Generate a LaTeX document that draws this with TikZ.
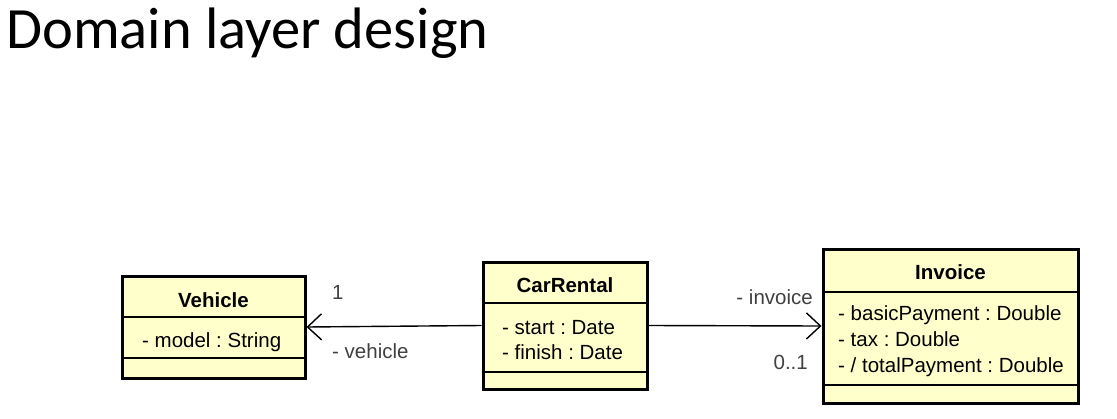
\documentclass[tikz,border=0pt]{standalone}
\usepackage{fontspec}
\setmainfont{Liberation Sans}
\newfontfamily\titlefont{Carlito}
\usetikzlibrary{arrows.meta}
\definecolor{myyellow}{RGB}{255, 255, 204}
\definecolor{mygray}{RGB}{64, 64, 64}
\frenchspacing

\begin{document}
\begin{tikzpicture}[x = 1pt, y = -1pt,
  classbox/.style = {draw, line width = 3pt, fill = myyellow, inner sep = 0pt},
  sepline/.style = {line width = 1.4pt},
  txt/.style = {inner sep = 0pt, font = \fontsize{20.5}{22}\selectfont},
  assoc/.style = {line width = 1.4pt, -{Straight Barb[length = 14pt, width = 26pt, line width = 1.4pt]}}]
\useasboundingbox (0,0) rectangle (1117,418);
\node[inner sep = 0pt, anchor = base west, font = \titlefont\fontsize{58.5}{64}\selectfont] (title) at (6, 48) {Domain layer design};
% classes
\node[classbox, minimum width = 183pt, minimum height = 102pt] (vehicle) at (213.5, 327) {};
\draw[sepline] (vehicle.west |- 0, 317) -- (vehicle.east |- 0, 317);
\draw[sepline] (vehicle.west |- 0, 358) -- (vehicle.east |- 0, 358);
\node[txt, anchor = base, font = \fontsize{20.5}{22}\selectfont\bfseries] (vehiclename) at (213.5, 307) {Vehicle};
\node[txt, anchor = base west] (model) at (142, 347) {- model : String};

\node[classbox, minimum width = 164pt, minimum height = 127pt] (carrental) at (565, 325.5) {};
\draw[sepline] (carrental.west |- 0, 303) -- (carrental.east |- 0, 303);
\draw[sepline] (carrental.west |- 0, 372) -- (carrental.east |- 0, 372);
\node[txt, anchor = base, font = \fontsize{20.5}{22}\selectfont\bfseries] (carrentalname) at (565, 292) {CarRental};
\node[txt, anchor = base west] (start) at (502, 334) {- start : Date};
\node[txt, anchor = base west] (finish) at (502, 359) {- finish : Date};

\node[classbox, minimum width = 255pt, minimum height = 154pt] (invoice) at (950.5, 326) {};
\draw[sepline] (invoice.west |- 0, 292) -- (invoice.east |- 0, 292);
\draw[sepline] (invoice.west |- 0, 385) -- (invoice.east |- 0, 385);
\node[txt, anchor = base, font = \fontsize{20.5}{22}\selectfont\bfseries] (invoicename) at (950.5, 279) {Invoice};
\node[txt, anchor = base west] (basic) at (838, 320) {- basicPayment : Double};
\node[txt, anchor = base west] (tax) at (838, 346) {- tax : Double};
\node[txt, anchor = base west] (total) at (838, 372) {- / totalPayment : Double};
% associations
\draw[assoc] (carrental.west) -- (vehicle.east);
\draw[assoc] (carrental.east) -- (invoice.west);
\node[txt, anchor = base west, text = mygray] (onevehicle) at (332, 299) {1};
\node[txt, anchor = base west, text = mygray] (rolevehicle) at (332, 358) {- vehicle};
\node[txt, anchor = base east, text = mygray] (roleinvoice) at (813, 304) {- invoice};
\node[txt, anchor = base east, text = mygray] (oneinvoice) at (808, 369) {0..1};
\end{tikzpicture}
\end{document}
